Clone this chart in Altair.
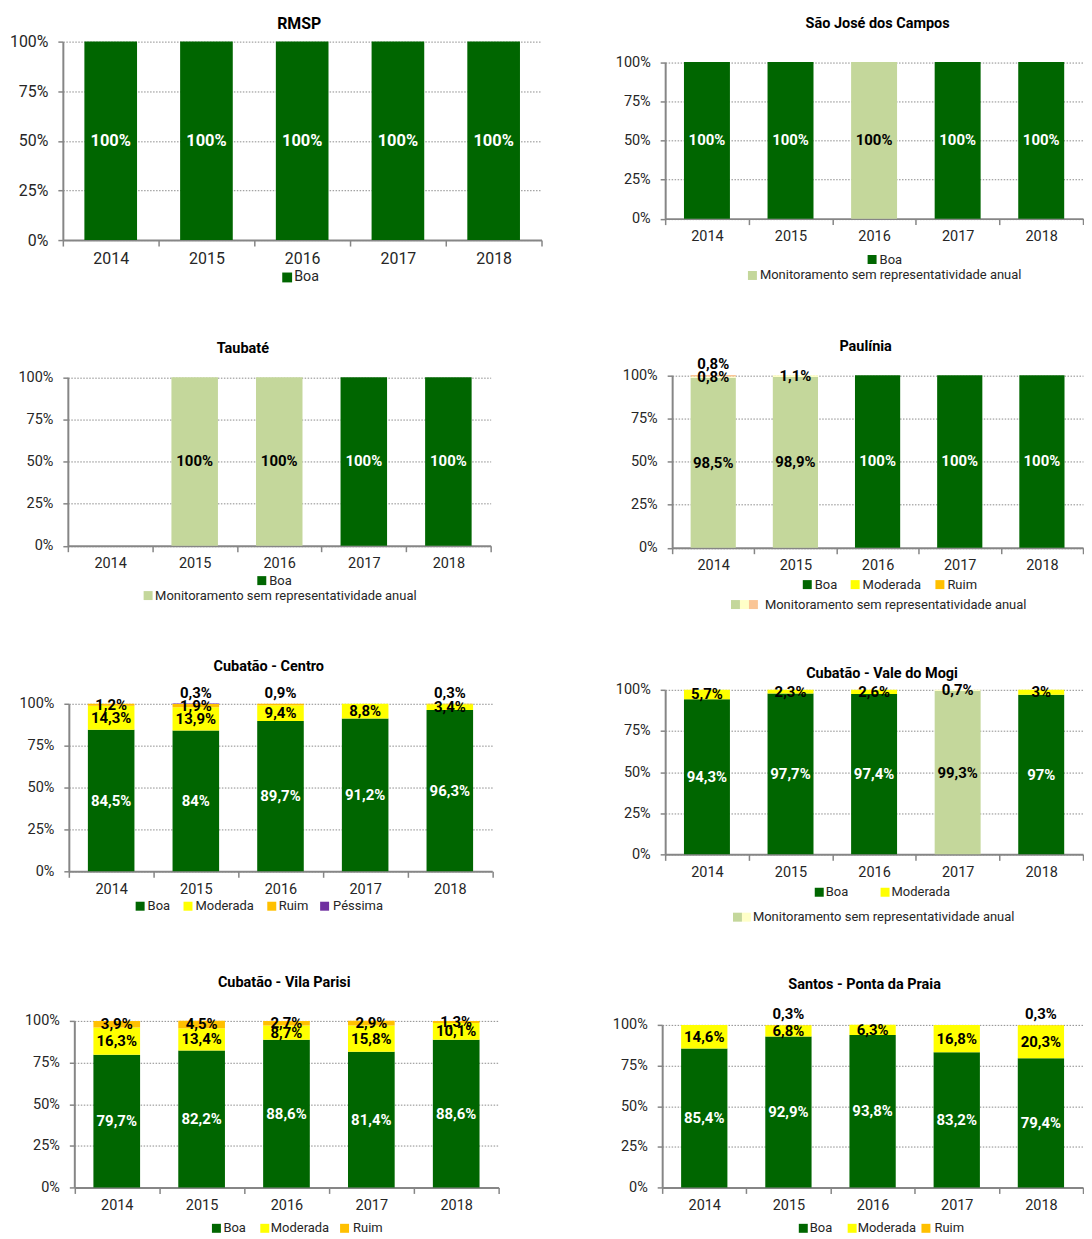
import altair as alt
import pandas as pd

FONT = "Roboto, 'DejaVu Sans Condensed', sans-serif"

# ---------------- data ----------------
YEARS = ["2014", "2015", "2016", "2017", "2018"]
CATS = ["Boa", "Moderada", "Ruim", "Péssima"]
SEM_REP = "Monitoramento sem representatividade anual"

RMSP_BOA = [100, 100, 100, 100, 100]

SJC_BOA = [100, 100, 100, 100, 100]
SJC_SEM = ["2016"]

TAU_BOA = [None, 100, 100, 100, 100]
TAU_SEM = ["2015", "2016"]

PAU_BOA = [98.5, 98.9, 100, 100, 100]
PAU_MOD = [0.8, 1.1, 0, 0, 0]
PAU_RUIM = [0.8, 0, 0, 0, 0]
PAU_SEM = ["2014", "2015"]

CEN_BOA = [84.5, 84, 89.7, 91.2, 96.3]
CEN_MOD = [14.3, 13.9, 9.4, 8.8, 3.4]
CEN_RUIM = [1.2, 1.9, 0.9, 0, 0.3]
CEN_PES = [0, 0.3, 0, 0, 0]

VMO_BOA = [94.3, 97.7, 97.4, 99.3, 97]
VMO_MOD = [5.7, 2.3, 2.6, 0.7, 3]
VMO_SEM = ["2017"]

VPA_BOA = [79.7, 82.2, 88.6, 81.4, 88.6]
VPA_MOD = [16.3, 13.4, 8.7, 15.8, 10.1]
VPA_RUIM = [3.9, 4.5, 2.7, 2.9, 1.3]

SAN_BOA = [85.4, 92.9, 93.8, 83.2, 79.4]
SAN_MOD = [14.6, 6.8, 6.3, 16.8, 20.3]
SAN_RUIM = [0, 0.3, 0, 0, 0.3]

KEYS = ["Boa", "Moderada", "Ruim", "Péssima", "Boa*", "Moderada*", "Ruim*"]
KEY_COLORS = ["#006600", "#FFFF00", "#FFC000", "#7030A0", "#C4D79B", "#FFFFC8", "#FAC596"]
COLOR_OF = dict(zip(KEYS, KEY_COLORS))

AX = "#868686"
GRID = "#8c8c8c"
TXT = "#262626"


def fmt(v):
    if float(v).is_integer():
        return f"{int(v)}%"
    return f"{v:.1f}".replace(".", ",") + "%"


def build(series, sem=()):
    rows = []
    for i, y in enumerate(YEARS):
        present = [(c, series[c][i]) for c in CATS if c in series and series[c][i]]
        for k, (c, v) in enumerate(present):
            light = y in sem
            top = k == len(present) - 1
            rows.append({
                "year": y, "cat": c, "ord": CATS.index(c), "value": v,
                "key": c + ("*" if light else ""),
                "label": fmt(v),
                "txt": "white" if (c == "Boa" and not light) else "black",
                "above": bool(top and v < 1 and c != "Moderada"),
            })
    return pd.DataFrame(rows)


# ---------------- layout (page pixels) ----------------
PANELS = [
    dict(title="RMSP", df=build({"Boa": RMSP_BOA}), col=0, row=0,
         axis_x=63, right=543, top=39.5, bottom=238.5, tpos=(300, 22), s=1.1,
         legend=[(["Boa"], 283, "Boa", 295, 276)]),
    dict(title="São José dos Campos", df=build({"Boa": SJC_BOA}, SJC_SEM), col=1, row=0,
         axis_x=667, right=1086, top=60, bottom=217, tpos=(880, 22), s=1.0,
         legend=[(["Boa"], 870, "Boa", 882, 258), (["Boa*"], 750, SEM_REP, 762, 274)]),
    dict(title="Taubaté", df=build({"Boa": TAU_BOA}, TAU_SEM), col=0, row=1,
         axis_x=68, right=492, top=376, bottom=545, tpos=(243.5, 347.5), s=1.0,
         legend=[(["Boa"], 258, "Boa", 270, 580), (["Boa*"], 144, SEM_REP, 155.5, 595)]),
    dict(title="Paulínia", df=build({"Boa": PAU_BOA, "Moderada": PAU_MOD, "Ruim": PAU_RUIM}, PAU_SEM),
         col=1, row=1, axis_x=674, right=1086, top=374, bottom=547, tpos=(868, 346), s=1.0,
         legend=[(["Boa"], 805, "Boa", 817, 584), (["Moderada"], 853, "Moderada", 865, 584),
                 (["Ruim"], 938, "Ruim", 950, 584),
                 (["Boa*", "Moderada*", "Ruim*"], 733, SEM_REP, 767, 604)]),
    dict(title="Cubatão - Centro",
         df=build({"Boa": CEN_BOA, "Moderada": CEN_MOD, "Ruim": CEN_RUIM, "Péssima": CEN_PES}),
         col=0, row=2, axis_x=69, right=493.5, top=703, bottom=871, tpos=(269.5, 666), s=1.0,
         legend=[(["Boa"], 136, "Boa", 148, 906), (["Moderada"], 184, "Moderada", 196, 906),
                 (["Ruim"], 268, "Ruim", 279.5, 906), (["Péssima"], 321, "Péssima", 334, 906)]),
    dict(title="Cubatão - Vale do Mogi", df=build({"Boa": VMO_BOA, "Moderada": VMO_MOD}, VMO_SEM),
         col=1, row=2, axis_x=667, right=1086, top=689, bottom=854, tpos=(884.5, 673), s=1.0,
         legend=[(["Boa"], 817, "Boa", 828, 892), (["Moderada"], 883, "Moderada", 894, 892),
                 (["Boa*", "Moderada*"], 735, SEM_REP, 755, 917)]),
    dict(title="Cubatão - Vila Parisi",
         df=build({"Boa": VPA_BOA, "Moderada": VPA_MOD, "Ruim": VPA_RUIM}),
         col=0, row=3, axis_x=74.5, right=500, top=1021, bottom=1188, tpos=(285, 983), s=1.0,
         legend=[(["Boa"], 212.5, "Boa", 224, 1229), (["Moderada"], 261, "Moderada", 271.5, 1229),
                 (["Ruim"], 341, "Ruim", 354, 1229)]),
    dict(title="Santos - Ponta da Praia",
         df=build({"Boa": SAN_BOA, "Moderada": SAN_MOD, "Ruim": SAN_RUIM}),
         col=1, row=3, axis_x=664, right=1086, top=1025, bottom=1188, tpos=(867, 985), s=1.0,
         legend=[(["Boa"], 801, "Boa", 812, 1229), (["Moderada"], 850, "Moderada", 860, 1229),
                 (["Ruim"], 924, "Ruim", 937, 1229)]),
]

ROW_GAP = 135
col_x = [min(p["axis_x"] for p in PANELS if p["col"] == c) for c in (0, 1)]
row_y = []
for r in range(4):
    if r == 0:
        row_y.append(min(p["top"] for p in PANELS if p["row"] == 0))
    else:
        prev_bottom = max(p["bottom"] for p in PANELS if p["row"] == r - 1)
        row_y.append(prev_bottom + ROW_GAP)
col0_width = max(p["right"] - col_x[0] for p in PANELS if p["col"] == 0)
COL_GAP = col_x[1] - (col_x[0] + col0_width)

# font sizes (condensed look approximated with Roboto)
FS_AXIS, FS_TITLE, FS_BAR, FS_LEG = 14.5, 14.5, 15, 13


def one(values):
    return alt.Data(values=[values])


def make_panel(p, first=False):
    ox, oy = col_x[p["col"]], row_y[p["row"]]
    s = p["s"]
    W = p["right"] - ox
    H = p["bottom"] - oy
    x0 = p["axis_x"] - ox
    yt = p["top"] - oy

    xs = alt.Scale(domain=YEARS, range=[x0, W], paddingInner=0, paddingOuter=0)
    ys = alt.Scale(domain=[0, 100], range=[H, yt], nice=False)
    xaxis = alt.Axis(title=None, labelAngle=0, tickBand="extent", domainColor=AX, domainWidth=2,
                     tickColor=AX, tickWidth=1.5, tickSize=6, labelPadding=5, labelFont=FONT,
                     labelFontSize=FS_AXIS * s, labelColor=TXT, grid=False)
    yaxis = alt.Axis(title=None, values=[0, 25, 50, 75, 100], labelExpr="datum.value + '%'",
                     domainColor=AX, domainWidth=2, tickColor=AX, tickWidth=1.5, tickSize=5,
                     labelPadding=10, labelFont=FONT, labelFontSize=FS_AXIS * s, labelColor=TXT,
                     grid=True, gridColor=GRID, gridDash=[1.5, 1.5], gridWidth=1, offset=-x0)

    base = alt.Chart(p["df"]).transform_stack(
        stack="value", groupby=["year"], as_=["y0", "y1"],
        sort=[alt.SortField(field="ord", order="ascending")],
    ).transform_calculate(mid="(datum.y0 + datum.y1) / 2")

    bars = base.mark_bar(width=alt.RelativeBandSize(0.55)).encode(
        x=alt.X("year:N", scale=xs, axis=xaxis),
        y=alt.Y("y0:Q", scale=ys, axis=yaxis),
        y2="y1:Q",
        color=alt.Color("key:N", scale=alt.Scale(domain=KEYS, range=KEY_COLORS), legend=None),
    )
    inside = base.transform_filter("!datum.above").mark_text(
        font=FONT, fontWeight="bold", fontSize=FS_BAR * s, baseline="middle", align="center"
    ).encode(
        x=alt.X("year:N"), y=alt.Y("mid:Q"), text="label:N",
        color=alt.condition("datum.txt == 'white'", alt.value("white"), alt.value("black")),
    )
    over = base.transform_filter("datum.above").mark_text(
        font=FONT, fontWeight="bold", fontSize=FS_BAR * s, baseline="middle", align="center",
        dy=-11, color="black"
    ).encode(x=alt.X("year:N"), y=alt.Y("y1:Q"), text="label:N")

    layers = [bars, inside, over]

    tx, ty = p["tpos"]
    layers.append(
        alt.Chart(one({"t": p["title"]})).mark_text(
            font=FONT, fontWeight="bold", fontSize=FS_TITLE * s, color="black",
            align="center", baseline="middle"
        ).encode(x=alt.value(tx - ox), y=alt.value(ty - oy), text="t:N")
    )

    sw = 9 * s
    for keys, left, label, text_x, ly in p["legend"]:
        for i, k in enumerate(keys):
            layers.append(
                alt.Chart(one({})).mark_square(size=sw * sw, color=COLOR_OF[k], opacity=1).encode(
                    x=alt.value(left - ox + sw / 2 + i * sw), y=alt.value(ly - oy)
                )
            )
        layers.append(
            alt.Chart(one({"t": label})).mark_text(
                font=FONT, fontSize=FS_LEG * s, color=TXT, align="left", baseline="middle"
            ).encode(x=alt.value(text_x - ox), y=alt.value(ly - oy), text="t:N")
        )

    if first:
        # white 1px mark fixing the top-left corner of the whole drawing (page margin 8px)
        layers.append(
            alt.Chart(one({})).mark_rect(color="white", opacity=1).encode(
                x=alt.value(8 - ox), x2=alt.value(9 - ox),
                y=alt.value(8 - oy), y2=alt.value(9 - oy),
            )
        )

    return alt.layer(*layers).properties(width=W, height=H)


charts = [make_panel(p, first=(i == 0)) for i, p in enumerate(PANELS)]

chart = alt.concat(
    *charts, columns=2, spacing={"row": ROW_GAP, "column": COL_GAP},
    bounds="flush", align="each", padding=0,
).configure_view(strokeWidth=0)

chart.save("out.html", embed_options={"renderer": "svg", "actions": False})
